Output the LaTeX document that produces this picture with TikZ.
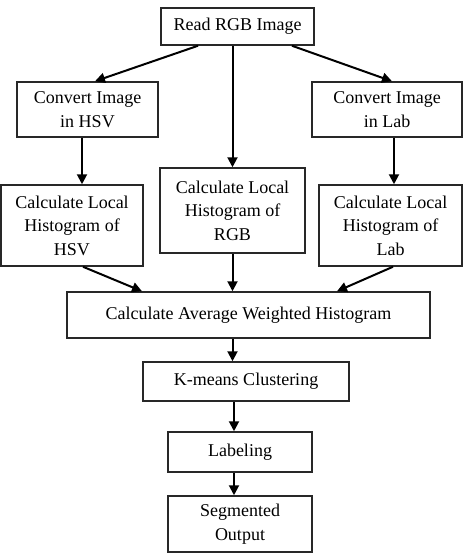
\documentclass[tikz,border=0pt]{standalone}
\usepackage{fontspec}
\setmainfont{Liberation Serif}
\usetikzlibrary{arrows.meta}

\tikzset{every picture/.style={line width=0.75pt}}
\tikzset{
  stepbox/.style={draw={rgb,255:red,40;green,40;blue,40}, line width=1.5pt, inner sep=0.75pt,
    align=center, font=\fontsize{18}{23.5}\selectfont},
  flow/.style={draw=black, line width=2pt, -{Triangle[length=10pt,width=10pt]}}
}

\begin{document}
\begin{tikzpicture}[x=1pt,y=1pt,yscale=-1,xscale=1]
\useasboundingbox (0,0) rectangle (463,557);

% Boxes
\node [stepbox, minimum width=153, minimum height=37] (read) at (237.5,26.5) {Read RGB Image};
\node [stepbox, minimum width=141, minimum height=55] (hsvconv) at (87.5,109.5) {Convert Image\\in HSV};
\node [stepbox, minimum width=150, minimum height=55] (labconv) at (387,109.5) {Convert Image\\in Lab};
\node [stepbox, minimum width=142, minimum height=81] (hsvhist) at (72,225.5) {Calculate Local\\Histogram of\\HSV};
\node [stepbox, minimum width=145, minimum height=85] (rgbhist) at (232.5,210.5) {Calculate Local\\Histogram of\\RGB};
\node [stepbox, minimum width=143, minimum height=81] (labhist) at (390.5,225.5) {Calculate Local\\Histogram of\\Lab};
\node [stepbox, minimum width=363, minimum height=46] (avg) at (248.5,315) {Calculate Average Weighted Histogram};
\node [stepbox, minimum width=206, minimum height=39] (kmeans) at (246,381.5) {K-means Clustering};
\node [stepbox, minimum width=144, minimum height=40] (label) at (240,452) {Labeling};
\node [stepbox, minimum width=144, minimum height=56] (seg) at (240,524) {Segmented\\Output};

% Arrows
\draw [flow] ([xshift=-39.5]read.south) -- ([xshift=7.5]hsvconv.north);
\draw [flow] (read.south -| rgbhist.north) -- (rgbhist.north);
\draw [flow] ([xshift=54.5]read.south) -- ([xshift=5]labconv.north);
\draw [flow] ([xshift=-5.5]hsvconv.south) -- ([xshift=10]hsvhist.north);
\draw [flow] ([xshift=7]labconv.south) -- ([xshift=3.5]labhist.north);
\draw [flow] ([xshift=11]hsvhist.south) -- ([xshift=-106.5]avg.north);
\draw [flow] (rgbhist.south) -- (rgbhist.south |- avg.north);
\draw [flow] ([xshift=2.5]labhist.south) -- ([xshift=88.5]avg.north);
\draw [flow] (avg.south -| rgbhist.south) -- (rgbhist.south |- kmeans.north);
\draw [flow] ([xshift=-6]label.north |- kmeans.south) -- ([xshift=-6]label.north);
\draw [flow] ([xshift=-6]label.south) -- ([xshift=-6]seg.north);

\end{tikzpicture}
\end{document}
